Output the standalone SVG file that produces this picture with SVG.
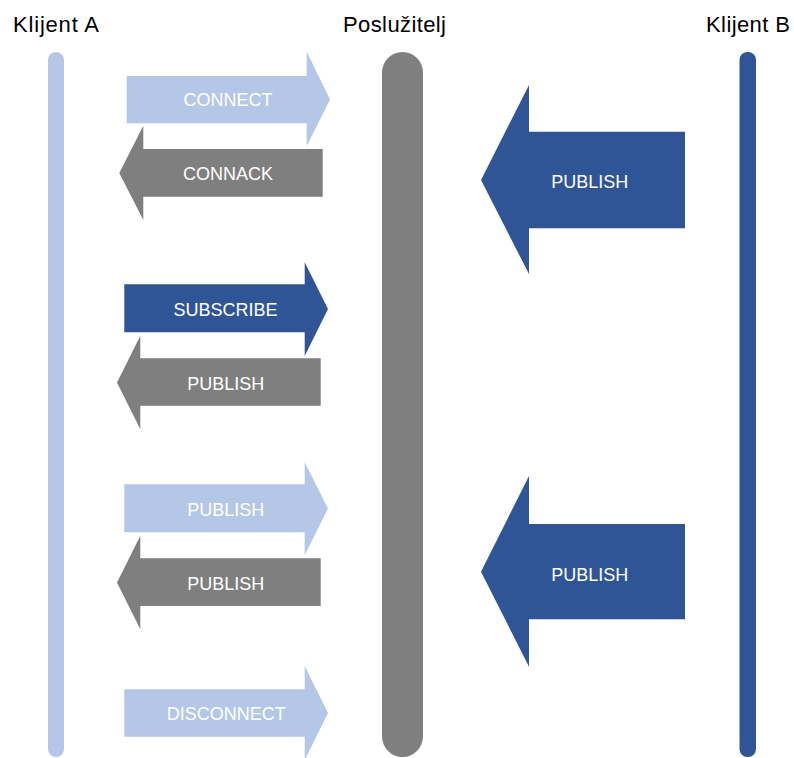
<svg xmlns="http://www.w3.org/2000/svg" width="794" height="758" viewBox="0 0 794 758">
<style>
.hdr{font-family:"Liberation Sans",Arial,sans-serif;font-size:22px;fill:#000}
.lbl{font-family:"Liberation Sans",Arial,sans-serif;font-size:18px;fill:#fff;text-anchor:middle}
.light{fill:#B4C7E7}
.gray{fill:#7F7F7F}
.dark{fill:#2F5597}
</style>
<rect width="794" height="758" fill="#fff"/>
<g id="klijentA">
<text class="hdr" x="13" y="32" textLength="86">Klijent A</text>
<rect class="light" x="48" y="52" width="16" height="705" rx="8"/>
</g>
<g id="posluzitelj">
<text class="hdr" x="343" y="32" textLength="103">Poslužitelj</text>
<rect class="gray" x="382" y="52" width="41" height="705" rx="20.5"/>
</g>
<g id="klijentB">
<text class="hdr" x="706" y="32" textLength="84">Klijent B</text>
<rect class="dark" x="739.5" y="52" width="16.5" height="705" rx="8"/>
</g>
<g id="connectors">
<g id="connect">
<path class="light" d="M126.7,76 H306.7 V51.7 L330,99.5 L306.7,146 V123.3 H126.7 Z"/>
<text class="lbl" x="228" y="106">CONNECT</text>
</g>
<g id="connack">
<path class="gray" d="M322.7,149 H143.3 V125.7 L119.3,173 L143.3,220 V196.7 H322.7 Z"/>
<text class="lbl" x="228" y="179.5">CONNACK</text>
</g>
<g id="subscribe">
<path class="dark" d="M124.3,284.3 H304.7 V262.3 L328,309 L304.7,356 V332.3 H124.3 Z"/>
<text class="lbl" x="225.5" y="315.8">SUBSCRIBE</text>
</g>
<g id="publish1">
<path class="gray" d="M320.7,358.3 H140.3 V335.7 L117,382.5 L140.3,429.3 V405.7 H320.7 Z"/>
<text class="lbl" x="225.8" y="389.8">PUBLISH</text>
</g>
<g id="publish2">
<path class="light" d="M124.3,484.3 H304.7 V462.3 L328,508.5 L304.7,555.3 V532.3 H124.3 Z"/>
<text class="lbl" x="225.8" y="515.5">PUBLISH</text>
</g>
<g id="publish3">
<path class="gray" d="M320.7,558.3 H140.3 V535.7 L117,582.5 L140.3,629.3 V606 H320.7 Z"/>
<text class="lbl" x="225.8" y="589.8">PUBLISH</text>
</g>
<g id="disconnect">
<path class="light" d="M124.3,689.3 H304.7 V666 L328,713 L304.7,760 V736.7 H124.3 Z"/>
<text class="lbl" x="226.2" y="719.8">DISCONNECT</text>
</g>
<g id="publishB1">
<path class="dark" d="M685,131.7 H529 V85 L481,180 L529,274 V228.3 H685 Z"/>
<text class="lbl" x="589.7" y="188.2">PUBLISH</text>
</g>
<g id="publishB2">
<path class="dark" d="M685,524 H529 V476 L481,571.7 L529,666.7 V619.3 H685 Z"/>
<text class="lbl" x="589.7" y="580.8">PUBLISH</text>
</g>
</g>
</svg>
